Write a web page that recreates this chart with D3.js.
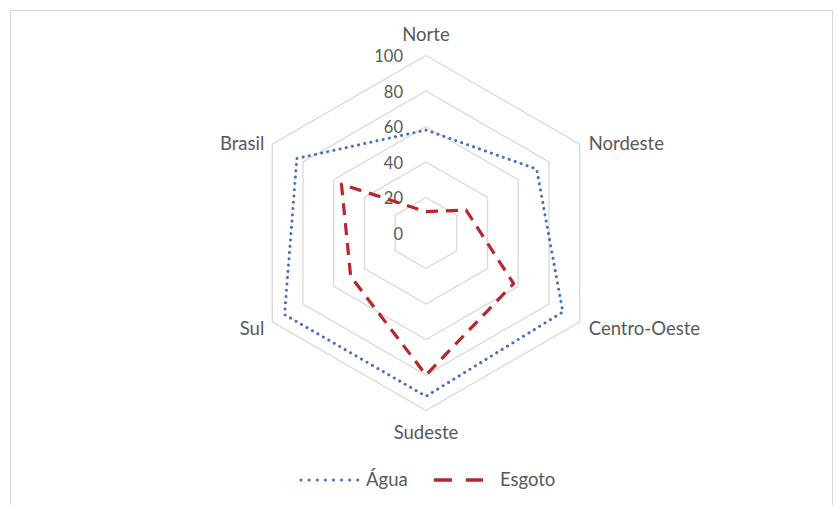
<!DOCTYPE html>
<html><head><meta charset="utf-8">
<script src="https://cdn.jsdelivr.net/npm/d3@7"></script>
<style>body{margin:0;background:#fff}svg{display:block}text{font-family:Lato,"Open Sans",sans-serif;fill:#595959}</style>
</head><body><svg id="c" width="837" height="505"></svg>
<script>
const categories = ["Norte","Nordeste","Centro-Oeste","Sudeste","Sul","Brasil"];
const agua = [58, 72, 89, 92, 92, 84];
const esgoto = [12, 26, 57, 80, 49, 55];
const ticks = [0, 20, 40, 60, 80, 100];
const seriesNames = ["Água","Esgoto"];

const svg = d3.select("#c");
svg.append("rect").attr("x",10.5).attr("y",10.5).attr("width",822).attr("height",520)
  .attr("fill","#fff").attr("stroke","#d9d9d9");
const cx = 426, cy = 233, R = 177.5;
const r = d3.scaleLinear().domain([0,100]).range([0,R]);
const ang = d3.scalePoint().domain(categories).range([0, 2*Math.PI*5/6]);
const pt = (c,v) => [cx + r(v)*Math.sin(ang(c)), cy - r(v)*Math.cos(ang(c))];

const g = svg.append("g");
ticks.filter(t=>t>0).forEach(t=>{
  g.append("path").attr("d", d3.line()(categories.map(c=>pt(c,t))) + "Z")
   .attr("fill","none").attr("stroke","#d9d9d9").attr("stroke-width",1.3);
});
ticks.forEach(t=>{
  g.append("text").attr("x", cx-23).attr("y", cy - r(t) + 1).attr("dy","0.35em")
   .attr("text-anchor","end").attr("font-size",16.5).text(t);
});
const line = d3.line().x(d=>d[0]).y(d=>d[1]).curve(d3.curveLinearClosed);
g.append("path").attr("d", line(categories.map((c,i)=>pt(c,agua[i]))))
  .attr("fill","none").attr("stroke","#4670bd").attr("stroke-width",3)
  .attr("stroke-dasharray","0.1 6.2").attr("stroke-linecap","round");
g.append("path").attr("d", line(categories.map((c,i)=>pt(c,esgoto[i]))))
  .attr("fill","none").attr("stroke","#b8272b").attr("stroke-width",3.2)
  .attr("stroke-dasharray","12 8").attr("stroke-linejoin","round");

categories.forEach(c=>{
  const a = ang(c), [x,y] = pt(c,100);
  let dx=0, dy=0, anchor="middle";
  const s = Math.sin(a), co = Math.cos(a);
  if (Math.abs(s) < 0.01) { dy = co>0 ? -20.5 : 22.5; }
  else { dx = s>0 ? 9 : -8; anchor = s>0 ? "start":"end"; dy = co>0 ? -1 : 6.5; }
  g.append("text").attr("x", x+dx).attr("y", y+dy).attr("dy","0.35em")
   .attr("text-anchor", anchor).attr("font-size",18.5).text(c);
});

const lg = svg.append("g");
lg.append("line").attr("x1",301).attr("x2",358).attr("y1",480).attr("y2",480)
  .attr("stroke","#4670bd").attr("stroke-width",3).attr("stroke-dasharray","0.1 8").attr("stroke-linecap","round");
lg.append("text").attr("x",366).attr("y",480).attr("dy","0.35em").attr("font-size",18.5).text(seriesNames[0]);
lg.append("line").attr("x1",434).attr("x2",483).attr("y1",480).attr("y2",480)
  .attr("stroke","#b8272b").attr("stroke-width",3.5).attr("stroke-dasharray","18 14");
lg.append("text").attr("x",500).attr("y",480).attr("dy","0.35em").attr("font-size",18.5).text(seriesNames[1]);
</script></body></html>
